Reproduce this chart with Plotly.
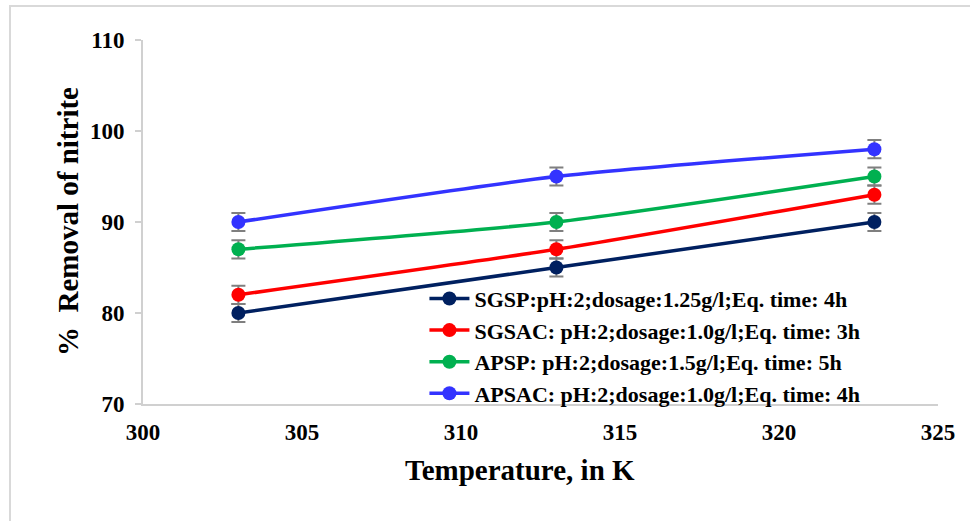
import plotly.graph_objects as go

# Temperature (K) and % nitrite removal for each adsorbent
temperature = [303, 313, 323]
sgsp = [80, 85, 90]
sgsac = [82, 87, 93]
apsp = [87, 90, 95]
apsac = [90, 95, 98]
err = [1, 1, 1]

series_names = [
    "SGSP:pH:2;dosage:1.25g/l;Eq. time: 4h",
    "SGSAC: pH:2;dosage:1.0g/l;Eq. time: 3h",
    "APSP: pH:2;dosage:1.5g/l;Eq. time: 5h",
    "APSAC: pH:2;dosage:1.0g/l;Eq. time: 4h",
]
series_values = [sgsp, sgsac, apsp, apsac]
series_colors = ["#002060", "#FF0000", "#00B050", "#3333FF"]

FONT = "Liberation Serif"

fig = go.Figure()
for name, vals, col in zip(series_names, series_values, series_colors):
    fig.add_trace(go.Scatter(
        x=temperature, y=vals, name=name,
        mode="lines+markers",
        line=dict(color=col, width=3.5, shape="spline", smoothing=0.6),
        marker=dict(color=col, size=14),
        error_y=dict(type="data", array=err, visible=True,
                     color="#7F7F7F", thickness=2, width=7),
    ))

W, H = 970, 521
L, R, T, B = 143, 32, 40, 117
pw, ph = W - L - R, H - T - B
bx = (10 - L) / pw
by = (H - B - 6) / ph


def px_x(p):
    return (p - L) / pw


def px_y(p):
    return (H - B - p) / ph


fig.update_layout(
    width=W, height=H,
    margin=dict(l=L, r=R, t=T, b=B),
    paper_bgcolor="white", plot_bgcolor="white",
    font=dict(family=FONT, color="black"),
    showlegend=True,
    legend=dict(
        x=0.354, y=0.347, xanchor="left", yanchor="top",
        bgcolor="rgba(0,0,0,0)",
        font=dict(family=FONT, size=22, color="black", weight="bold"),
        itemwidth=40, tracegroupgap=0,
    ),
    xaxis=dict(
        range=[300, 325], dtick=5, tick0=300,
        showgrid=False, zeroline=False,
        showline=True, linecolor="#D0D0D0", linewidth=2,
        ticks="", ticklabelstandoff=6,
        tickfont=dict(family=FONT, size=23, weight="bold"),
    ),
    yaxis=dict(
        range=[70, 110], dtick=10, tick0=70,
        showgrid=False, zeroline=False,
        showline=True, linecolor="#D0D0D0", linewidth=2,
        ticks="outside", ticklen=6, tickcolor="#D0D0D0", tickwidth=1.5,
        ticklabelstandoff=6,
        tickfont=dict(family=FONT, size=23, weight="bold"),
    ),
    annotations=[
        dict(text="Temperature, in K", xref="paper", yref="paper",
             x=px_x(520), y=px_y(470), xanchor="center", yanchor="middle",
             showarrow=False,
             font=dict(family=FONT, size=29, weight="bold", color="black")),
        dict(text="%\u00a0\u00a0Removal of nitrite", xref="paper", yref="paper",
             x=px_x(68), y=px_y(222), xanchor="center", yanchor="middle",
             textangle=-90, showarrow=False,
             font=dict(family=FONT, size=29, weight="bold", color="black")),
    ],
    shapes=[
        dict(type="path", xref="paper", yref="paper",
             path=f"M {bx} -1 L {bx} {by} L 2 {by}",
             line=dict(color="#D9D9D9", width=2), layer="below"),
    ],
)

fig.write_html("out.html")
